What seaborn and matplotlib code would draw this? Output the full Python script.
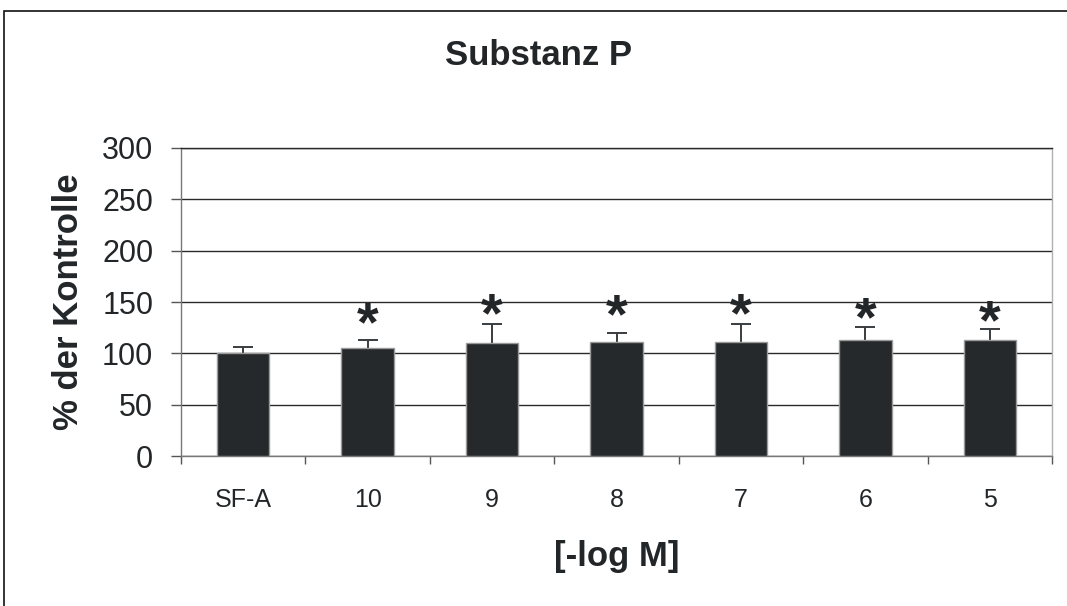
import matplotlib
matplotlib.use("Agg")
import matplotlib.pyplot as plt
import matplotlib.patches as mpatches
import numpy as np
import pandas as pd
import seaborn as sns

# Substanz P concentration series, response in % of control
categories = ["SF-A", "10", "9", "8", "7", "6", "5"]
values = [100, 105, 110, 111.5, 111.5, 113, 113]
errors = [6.5, 8, 19, 8, 17.5, 13, 11]
significant = [False, True, True, True, True, True, True]
star_y = [0, 137.6, 145.7, 144.9, 145.7, 142.5, 139.6]
y_ticks = [0, 50, 100, 150, 200, 250, 300]

sns.set_theme(style="white")
plt.rcParams["font.family"] = ["Liberation Sans", "DejaVu Sans"]

text_col = "#222628"
bar_col = "#25292b"

df = pd.DataFrame({"cat": categories, "val": values})

fig = plt.figure(figsize=(10.67, 6.06), dpi=100)
ax = fig.add_axes([0.1696, 0.2475, 0.8164, 0.5083])

sns.barplot(data=df, x="cat", y="val", order=categories, color=bar_col,
            saturation=1, width=0.42, errorbar=None, ax=ax,
            edgecolor="#9a9a9a", linewidth=1.0, zorder=3)

# symmetric error bars drawn behind the bars, so only the upper half shows
x = np.arange(len(categories))
ax.errorbar(x, values, yerr=errors, fmt="none",
            ecolor="#3a3d3f", elinewidth=1.4, capsize=7, capthick=1.4,
            zorder=2.5)

# significance asterisks, centred on star_y
star_fs = 40
for xi, sig, sy in zip(x, significant, star_y):
    if sig:
        ax.annotate("*", (xi, sy), xytext=(0, -0.2 * star_fs),
                    textcoords="offset points", ha="center", va="center",
                    fontsize=star_fs, fontweight="bold", color=text_col,
                    zorder=5)

ax.set_ylim(0, 300)
ax.set_xlim(-0.5, len(categories) - 0.5)
ax.set_yticks(y_ticks)
ax.set_yticklabels([str(t) for t in y_ticks], fontsize=22, color=text_col)
ax.yaxis.grid(True, color="#2a2a2a", linewidth=1.0)
ax.set_axisbelow(True)

# category labels centred, tick marks between categories
ax.set_xticks(x)
ax.set_xticklabels(categories, fontsize=18, color=text_col)
ax.tick_params(axis="x", length=0, pad=23)
ax.set_xticks(np.arange(-0.5, len(categories)), minor=True)
ax.tick_params(axis="x", which="minor", length=6, width=1.0, color="#555555",
               direction="out", bottom=True)
ax.tick_params(axis="y", length=7, width=1.0, color="#555555",
               direction="out", left=True, pad=13)

for side in ["left", "bottom"]:
    ax.spines[side].set_color("#777777")
    ax.spines[side].set_linewidth(1.0)
ax.spines["right"].set_color("#b0b0b0")
ax.spines["right"].set_linewidth(1.0)
ax.spines["top"].set_color("#2a2a2a")
ax.spines["top"].set_linewidth(1.0)

ax.set_xlabel("[-log M]", fontsize=25, fontweight="bold", color=text_col,
              labelpad=20)
ax.set_ylabel("% der Kontrolle", fontsize=25, fontweight="bold",
              color=text_col, labelpad=12)

fig.text(0.505, 0.908, "Substanz P", ha="center", va="center", fontsize=25,
         fontweight="bold", color=text_col)

# outer frame of the chart area
frame = mpatches.Rectangle((4 / 1067, -0.05), 1.1, 1 - 11 / 606 + 0.05,
                           transform=fig.transFigure, fill=False,
                           edgecolor="#111111", linewidth=1.2)
fig.patches.append(frame)

fig.savefig("out.png", dpi=100)
